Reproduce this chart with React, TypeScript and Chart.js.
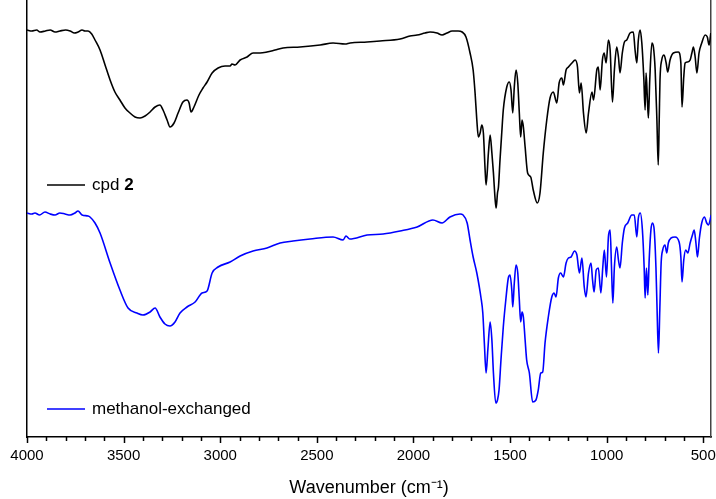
import React, { useEffect, useRef } from "react";
import { Chart, registerables } from "chart.js";

Chart.register(...registerables);

const FONT = "Arial, 'Liberation Sans', Helvetica, sans-serif";

// cpd 2 spectrum (wavenumber in cm-1, transmittance in arbitrary units)
const cpdWavenumbers = [
  4000, 3975, 3950, 3933, 3905, 3880, 3855, 3830, 3800, 3777,
  3755, 3736, 3715, 3700, 3684, 3665, 3648, 3622, 3596, 3570,
  3545, 3519, 3493, 3467, 3441, 3415, 3389, 3363, 3337, 3312,
  3296, 3275, 3260, 3239, 3218, 3193, 3172, 3161, 3151, 3136,
  3110, 3089, 3068, 3042, 3011, 2975, 2949, 2939, 2923, 2897,
  2861, 2830, 2794, 2758, 2716, 2675, 2587, 2483, 2416, 2354,
  2328, 2240, 2173, 2069, 2018, 1981, 1940, 1914, 1878, 1852,
  1826, 1800, 1769, 1748, 1728, 1707, 1691, 1681, 1672, 1664,
  1655, 1646, 1638, 1629, 1624, 1612, 1603, 1594, 1586, 1577,
  1572, 1565, 1560, 1552, 1543, 1535, 1517, 1504, 1495, 1486,
  1478, 1469, 1460, 1452, 1445, 1438, 1431, 1422, 1409, 1393,
  1380, 1359, 1345, 1328, 1310, 1293, 1276, 1258, 1246, 1232,
  1224, 1210, 1198, 1180, 1163, 1151, 1141, 1132, 1120, 1106,
  1094, 1076, 1068, 1051, 1043, 1034, 1022, 1013, 1003, 991,
  982, 970, 960, 948, 939, 931, 919, 908, 896, 879,
  862, 853, 844, 836, 827, 818, 808, 801, 796, 789,
  784, 777, 766, 758, 749, 740, 733, 728, 724, 715,
  703, 692, 684, 672, 655, 629, 616, 610, 601, 594,
  582, 568, 559, 551, 542, 533, 522, 508, 490, 479,
  470, 461,
];
const cpdValues = [
  407, 406, 407, 405, 406, 407, 405, 406, 407, 406,
  404, 405, 407, 406, 406, 403, 397, 387, 372, 357,
  345, 337, 329, 324, 320, 319, 321, 325, 330, 332,
  327, 317, 310, 314, 324, 335, 337, 334, 325, 330,
  342, 349, 355, 364, 369, 371, 371, 373, 372, 377,
  380, 384, 384, 385, 387, 389, 390, 392, 394, 393,
  394, 395, 396, 398, 401, 402, 404, 405, 404, 402,
  404, 406, 406, 405, 400, 384, 367, 344, 317, 300,
  304, 312, 304, 267, 252, 284, 302, 284, 264, 237,
  229, 244, 250, 277, 304, 327, 350, 355, 347, 324,
  350, 367, 354, 324, 300, 317, 310, 290, 264, 260,
  247, 234, 244, 284, 317, 339, 345, 334, 354, 359,
  352, 367, 370, 374, 377, 370, 344, 354, 324, 304,
  324, 345, 337, 367, 370, 347, 377, 384, 374, 397,
  387, 335, 367, 390, 380, 364, 384, 395, 397, 404,
  405, 387, 374, 397, 407, 394, 360, 327, 364, 337,
  319, 357, 394, 390, 367, 317, 272, 317, 357, 377,
  382, 374, 365, 377, 384, 385, 374, 330, 360, 374,
  375, 377, 384, 390, 380, 364, 384, 394, 402, 400,
  392, 404,
];

// methanol-exchanged spectrum
const meohWavenumbers = [
  4000, 3975, 3959, 3935, 3907, 3880, 3855, 3830, 3803, 3777,
  3752, 3736, 3715, 3684, 3674, 3648, 3622, 3570, 3519, 3477,
  3431, 3400, 3363, 3337, 3312, 3286, 3260, 3234, 3208, 3172,
  3130, 3094, 3068, 3042, 3011, 2949, 2897, 2830, 2758, 2690,
  2623, 2535, 2416, 2364, 2349, 2330, 2240, 2157, 2069, 1981,
  1899, 1852, 1811, 1759, 1743, 1722, 1707, 1691, 1672, 1659,
  1651, 1641, 1633, 1624, 1615, 1603, 1594, 1586, 1574, 1565,
  1557, 1547, 1535, 1522, 1509, 1500, 1491, 1486, 1478, 1469,
  1460, 1452, 1445, 1438, 1431, 1422, 1414, 1400, 1383, 1366,
  1354, 1341, 1331, 1319, 1302, 1284, 1272, 1262, 1250, 1238,
  1224, 1210, 1198, 1184, 1167, 1154, 1141, 1128, 1116, 1107,
  1094, 1081, 1073, 1065, 1054, 1043, 1030, 1020, 1012, 1001,
  991, 982, 975, 968, 960, 948, 939, 931, 919, 908,
  891, 870, 857, 844, 836, 826, 815, 806, 801, 794,
  787, 780, 771, 763, 754, 745, 739, 732, 725, 718,
  710, 698, 689, 681, 667, 646, 625, 616, 610, 601,
  591, 580, 568, 556, 547, 538, 530, 520, 508, 494,
  482, 473, 459,
];
const meohValues = [
  224, 223, 224, 222, 225, 223, 222, 224, 223, 222,
  224, 226, 222, 221, 220, 214, 204, 174, 147, 129,
  124, 122, 125, 129, 120, 113, 111, 115, 124, 130,
  135, 144, 146, 164, 170, 175, 181, 186, 189, 194,
  196, 198, 200, 197, 201, 198, 202, 203, 206, 210,
  217, 214, 220, 223, 222, 214, 197, 180, 164, 150,
  140, 124, 94, 64, 87, 115, 97, 64, 34, 37,
  47, 77, 110, 137, 159, 162, 147, 130, 154, 172,
  164, 137, 115, 125, 120, 97, 77, 64, 35, 37,
  47, 64, 65, 94, 120, 140, 144, 140, 159, 164,
  160, 174, 179, 180, 186, 182, 164, 179, 150, 140,
  164, 174, 157, 145, 167, 169, 144, 170, 187, 160,
  200, 207, 170, 134, 170, 190, 177, 169, 194, 209,
  214, 222, 222, 200, 219, 224, 207, 170, 139, 169,
  142, 177, 207, 214, 207, 170, 127, 84, 127, 174,
  187, 192, 184, 194, 199, 200, 195, 180, 155, 177,
  187, 184, 194, 202, 207, 194, 180, 199, 214, 220,
  214, 212, 222,
];

const majorTicks = [4000, 3500, 3000, 2500, 2000, 1500, 1000, 500];
const minorStep = 100;
const xMin = 460;
const xMax = 4000;
const yMin = 0;
const yMax = 437;
const legendLabels: [string, string][] = [
  ["cpd ", "2"],
  ["methanol-exchanged", ""],
];
const seriesColors = ["#000000", "#0000ff"];
const xTitle = "Wavenumber (cm\u207B\u00B9)";

function toPoints(xs: number[], ys: number[]) {
  return xs.map((x, i) => ({ x, y: ys[i] }));
}

const ticksPlugin = {
  id: "minorMajorTicks",
  afterDraw(chart: any) {
    const ctx = chart.ctx;
    const sx = chart.scales.x;
    const bottom = chart.chartArea.bottom;
    ctx.save();
    ctx.strokeStyle = "#000";
    ctx.lineWidth = 1.5;
    for (let v = 500; v <= xMax; v += minorStep) {
      if (v < xMin) continue;
      const px = Math.round(sx.getPixelForValue(v)) + 0.5;
      const len = v % 500 === 0 ? 6 : 4;
      ctx.beginPath();
      ctx.moveTo(px, bottom);
      ctx.lineTo(px, bottom + len);
      ctx.stroke();
    }
    ctx.restore();
  },
};

const legendPlugin = {
  id: "inlineLegend",
  afterDatasetsDraw(chart: any) {
    const ctx = chart.ctx;
    const ys = [185, 409];
    chart.data.datasets.forEach((ds: any, i: number) => {
      const y = ys[i];
      ctx.save();
      ctx.strokeStyle = ds.borderColor;
      ctx.lineWidth = 1.6;
      ctx.beginPath();
      ctx.moveTo(47, y);
      ctx.lineTo(85, y);
      ctx.stroke();
      ctx.fillStyle = "#000";
      ctx.textBaseline = "middle";
      ctx.font = `17px ${FONT}`;
      const [plain, bold] = legendLabels[i];
      ctx.fillText(plain, 92, y);
      if (bold) {
        const w = ctx.measureText(plain).width;
        ctx.font = `bold 17px ${FONT}`;
        ctx.fillText(bold, 92 + w, y);
      }
      ctx.restore();
    });
  },
};

export default function App() {
  const ref = useRef<HTMLCanvasElement | null>(null);

  useEffect(() => {
    if (!ref.current) return;
    const chart = new Chart(ref.current, {
      type: "line",
      data: {
        datasets: [
          {
            label: legendLabels[0].join(""),
            data: toPoints(cpdWavenumbers, cpdValues),
            borderColor: seriesColors[0],
            borderWidth: 1.6,
            pointRadius: 0,
            cubicInterpolationMode: "monotone",
            fill: false,
          },
          {
            label: legendLabels[1].join(""),
            data: toPoints(meohWavenumbers, meohValues),
            borderColor: seriesColors[1],
            borderWidth: 1.6,
            pointRadius: 0,
            cubicInterpolationMode: "monotone",
            fill: false,
          },
        ],
      },
      options: {
        responsive: false,
        animation: false,
        layout: { padding: 0 },
        plugins: {
          legend: { display: false },
          tooltip: { enabled: false },
        },
        scales: {
          x: {
            type: "linear",
            min: xMin,
            max: xMax,
            reverse: true,
            afterBuildTicks: (scale: any) => {
              scale.ticks = majorTicks.map((v) => ({ value: v }));
            },
            afterFit: (scale: any) => {
              scale.height = 62;
              scale.paddingLeft = 0;
              scale.paddingRight = 0;
            },
            grid: { display: false },
            border: { display: true, color: "#000", width: 1.5 },
            ticks: {
              autoSkip: false,
              maxRotation: 0,
              padding: 2,
              color: "#000",
              font: { family: FONT, size: 15 },
              callback: (value: any) => String(value),
            },
            title: {
              display: true,
              text: xTitle,
              color: "#000",
              font: { family: FONT, size: 18 },
              padding: { top: 4, bottom: 0 },
            },
          },
          y: {
            type: "linear",
            min: yMin,
            max: yMax,
            position: "left",
            afterFit: (scale: any) => {
              scale.width = 27;
            },
            grid: { display: false },
            ticks: { display: false },
            border: { display: true, color: "#000", width: 1.5 },
          },
          y2: {
            type: "linear",
            min: yMin,
            max: yMax,
            position: "right",
            afterFit: (scale: any) => {
              scale.width = 5;
            },
            grid: { display: false },
            ticks: { display: false },
            border: { display: true, color: "#444", width: 1.5 },
          },
        },
      },
      plugins: [ticksPlugin, legendPlugin],
    } as any);
    return () => chart.destroy();
  }, []);

  return (
    <div style={{ position: "absolute", left: 0, top: 0, width: 716, height: 499, background: "#fff" }}>
      <canvas ref={ref} width={716} height={499} style={{ display: "block" }} />
    </div>
  );
}
